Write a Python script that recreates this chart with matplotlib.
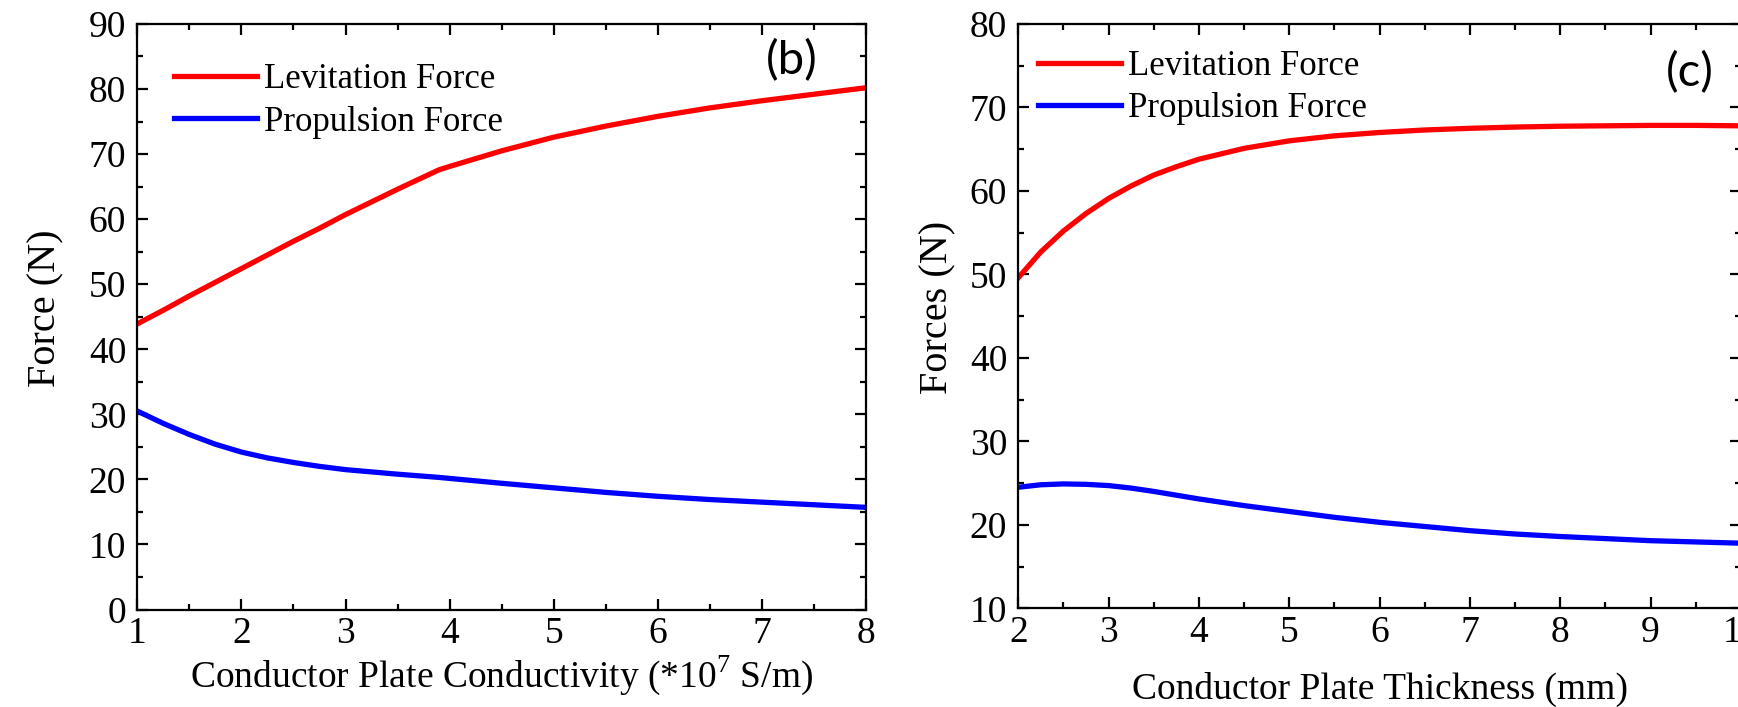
import matplotlib.pyplot as plt
from matplotlib.ticker import MultipleLocator

# data
cond_x = [1, 1.25, 1.5, 1.75, 2, 2.25, 2.5, 2.75, 3, 3.5, 3.9, 4, 4.5, 5, 5.5, 6, 6.5, 7, 7.5, 8]
cond_lev = [43.9, 46.0, 48.2, 50.3, 52.4, 54.5, 56.6, 58.6, 60.7, 64.6, 67.6, 68.1, 70.5, 72.6, 74.3, 75.8, 77.1, 78.2, 79.2, 80.2]
cond_prop = [30.5, 28.6, 26.9, 25.4, 24.2, 23.3, 22.6, 22.0, 21.5, 20.8, 20.3, 20.15, 19.4, 18.7, 18.0, 17.4, 16.9, 16.5, 16.1, 15.7]

thick_x = [2, 2.25, 2.5, 2.75, 3, 3.25, 3.5, 3.75, 4, 4.5, 5, 5.5, 6, 6.5, 7, 7.5, 8, 8.5, 9, 9.5, 10]
thick_lev = [49.6, 52.7, 55.2, 57.3, 59.1, 60.6, 61.9, 62.9, 63.8, 65.1, 66.0, 66.6, 67.0, 67.3, 67.5, 67.65, 67.75, 67.8, 67.85, 67.85, 67.8]
thick_prop = [24.5, 24.8, 24.9, 24.85, 24.7, 24.4, 24.0, 23.55, 23.1, 22.3, 21.6, 20.9, 20.3, 19.8, 19.3, 18.9, 18.6, 18.35, 18.1, 17.95, 17.8]

labels = ['Levitation Force', 'Propulsion Force']

plt.rcParams['font.family'] = ['Liberation Serif', 'DejaVu Serif']
plt.rcParams['mathtext.fontset'] = 'custom'
plt.rcParams['mathtext.rm'] = 'Liberation Serif'

fig = plt.figure(figsize=(17.38, 7.07), dpi=100)
ax1 = fig.add_axes([0.0790, 0.1379, 0.4193, 0.8282])
ax2 = fig.add_axes([0.5859, 0.1396, 0.4158, 0.8265])


def style(ax):
    for s in ax.spines.values():
        s.set_linewidth(1.6)
    ax.tick_params(which='both', direction='in', top=True, right=True, width=1.6)
    ax.tick_params(which='major', length=8, labelsize=27)
    ax.tick_params(which='minor', length=4.5)
    ax.tick_params(axis='x', pad=5)
    ax.tick_params(axis='y', pad=8)
    ax.xaxis.set_minor_locator(MultipleLocator(0.5))
    ax.yaxis.set_minor_locator(MultipleLocator(5))
    ax.yaxis.set_major_locator(MultipleLocator(10))
    ax.xaxis.set_major_locator(MultipleLocator(1))


# (b) conductivity
ax1.plot(cond_x, cond_lev, color='#ff0000', lw=3.8, label=labels[0])
ax1.plot(cond_x, cond_prop, color='#0000ff', lw=3.8, label=labels[1])
ax1.set_xlim(1, 8)
ax1.set_ylim(0, 90)
style(ax1)
ax1.set_xlabel(r'Conductor Plate Conductivity (*10$^{7}$ S/m)', fontsize=27, labelpad=2)
ax1.set_ylabel('Force (N)', fontsize=29)
ax1.yaxis.set_label_coords(-0.100, 0.515)
ax1.legend(loc='upper left', bbox_to_anchor=(0.050, 0.933), frameon=False, fontsize=25,
           handlelength=2.4, handletextpad=0.2, labelspacing=0.27, borderpad=0, borderaxespad=0)
ax1.text(0.898, 0.937, '(b)', transform=ax1.transAxes, fontsize=34, family='Lato',
         ha='center', va='center')

# (c) thickness
ax2.plot(thick_x, thick_lev, color='#ff0000', lw=3.8, label=labels[0])
ax2.plot(thick_x, thick_prop, color='#0000ff', lw=3.8, label=labels[1])
ax2.set_xlim(2, 10)
ax2.set_ylim(10, 80)
style(ax2)
ax2.set_xlabel('Conductor Plate Thickness (mm)', fontsize=27, labelpad=16)
ax2.set_ylabel('Forces (N)', fontsize=29)
ax2.yaxis.set_label_coords(-0.085, 0.515)
ax2.legend(loc='upper left', bbox_to_anchor=(0.027, 0.956), frameon=False, fontsize=25,
           handlelength=2.4, handletextpad=0.2, labelspacing=0.27, borderpad=0, borderaxespad=0)
ax2.text(0.929, 0.916, '(c)', transform=ax2.transAxes, fontsize=34, family='Lato',
         ha='center', va='center')

fig.savefig('out.png', dpi=100)
